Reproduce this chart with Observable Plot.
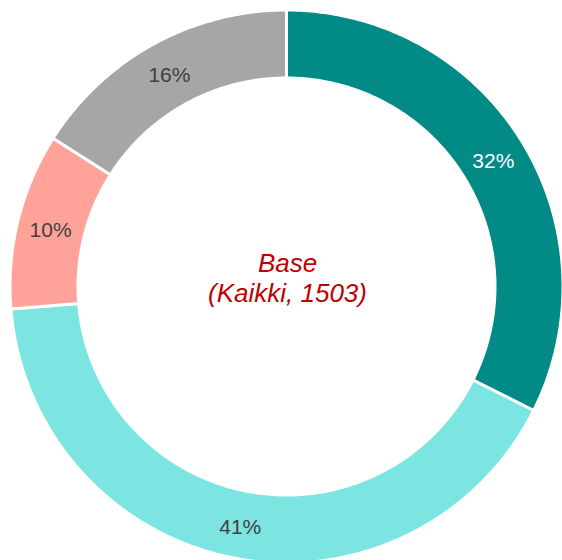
<!DOCTYPE html>
<html>
<head>
<meta charset="utf-8">
<script src="https://cdn.jsdelivr.net/npm/d3@7"></script>
<script src="https://cdn.jsdelivr.net/npm/@observablehq/plot@0.6"></script>
<style>
  html, body { margin: 0; padding: 0; background: #ffffff; }
  #chart { width: 562px; height: 560px; }
</style>
</head>
<body>
<div id="chart"></div>
<script>
// Data
const categories = ["A", "B", "C", "D"];
const values = [32.4, 41.3, 10.3, 16.0];
const labels = ["32%", "41%", "10%", "16%"];
const colors = ["#028A86", "#7CE4E1", "#FFA39A", "#A6A6A6"];
const labelColors = ["#ffffff", "#404040", "#404040", "#404040"];
const centerLines = ["Base", "(Kaikki, 1503)"];

// Layout
const W = 562, H = 560;
const cx = 286, cy = 286;
const rOuter = 276.5, rInner = 208.5, rLabel = 243;

const pie = d3.pie().sort(null).value(d => d.value);
const slices = pie(categories.map((c, i) => ({ c, value: values[i], i })));

const pt = (a, r) => ({ x: cx + r * Math.sin(a), y: cy - r * Math.cos(a) });

const ring = [];
for (const s of slices) {
  const n = Math.max(8, Math.ceil((s.endAngle - s.startAngle) * 80));
  for (let k = 0; k <= n; k++) {
    const a = s.startAngle + (s.endAngle - s.startAngle) * k / n;
    ring.push({ ...pt(a, rOuter), c: s.data.c });
  }
  for (let k = n; k >= 0; k--) {
    const a = s.startAngle + (s.endAngle - s.startAngle) * k / n;
    ring.push({ ...pt(a, rInner), c: s.data.c });
  }
}

const labelData = slices.map(s => {
  const a = (s.startAngle + s.endAngle) / 2;
  return { ...pt(a, rLabel), text: labels[s.data.i], color: labelColors[s.data.i] };
});

const chart = Plot.plot({
  width: W,
  height: H,
  margin: 0,
  x: { domain: [0, W], range: [0, W], axis: null },
  y: { domain: [0, H], range: [0, H], axis: null },
  color: { domain: categories, range: colors },
  style: { fontFamily: "'Liberation Sans', Arial, sans-serif", background: "#ffffff" },
  marks: [
    Plot.line(ring, {
      x: "x", y: "y", z: "c", fill: "c",
      stroke: "#ffffff", strokeWidth: 3,
      curve: "linear-closed", strokeLinejoin: "miter"
    }),
    Plot.text(labelData, {
      x: "x", y: "y", text: "text", fill: "color",
      fontSize: 21, dy: 2, textAnchor: "middle", lineAnchor: "middle"
    }),
    Plot.text([centerLines.join("\n")], {
      x: () => cx + 1, y: () => 277,
      text: d => d,
      fill: "#C00000", fontSize: 26, fontStyle: "italic",
      lineHeight: 1.13, textAnchor: "middle", lineAnchor: "middle"
    })
  ]
});

document.getElementById("chart").appendChild(chart);
</script>
</body>
</html>
